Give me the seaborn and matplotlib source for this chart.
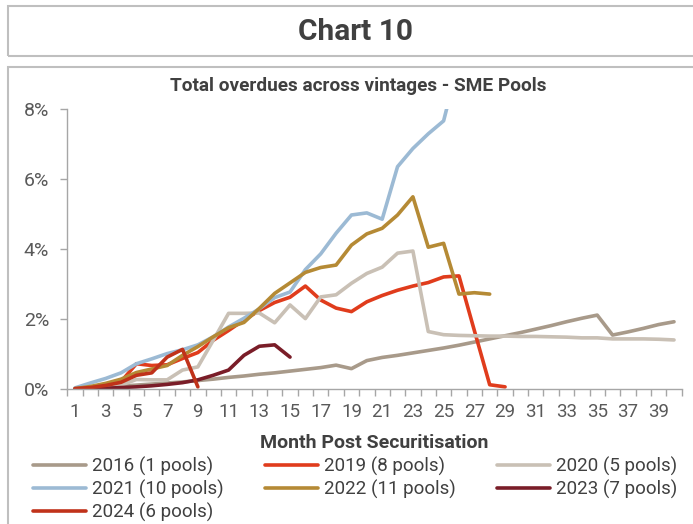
import numpy as np
import pandas as pd
import matplotlib
matplotlib.use('Agg')
import matplotlib.pyplot as plt
from matplotlib.patches import Rectangle
import seaborn as sns

# overdues (% of pool) by month post securitisation
ovd_2016 = [0.00, 0.03, 0.06, 0.09, 0.12, 0.15, 0.18, 0.21, 0.25, 0.29,
            0.34, 0.38, 0.43, 0.47, 0.52, 0.57, 0.62, 0.69, 0.59, 0.82,
            0.91, 0.97, 1.04, 1.11, 1.18, 1.26, 1.35, 1.44, 1.53, 1.62,
            1.72, 1.82, 1.93, 2.03, 2.12, 1.55, 1.64, 1.74, 1.85, 1.93]
ovd_2019 = [0.02, 0.05, 0.10, 0.22, 0.73, 0.68, 0.70, 0.88, 1.05, 1.40,
            1.68, 1.98, 2.25, 2.48, 2.63, 2.95, 2.55, 2.32, 2.22, 2.50,
            2.68, 2.83, 2.95, 3.05, 3.21, 3.24, 1.68, 0.13, 0.07]
ovd_2020 = [0.00, 0.02, 0.06, 0.12, 0.28, 0.27, 0.27, 0.55, 0.64, 1.40,
            2.17, 2.17, 2.18, 1.90, 2.41, 2.02, 2.64, 2.70, 3.03, 3.31,
            3.49, 3.89, 3.95, 1.65, 1.56, 1.54, 1.53, 1.52, 1.52, 1.51,
            1.51, 1.50, 1.49, 1.47, 1.47, 1.44, 1.44, 1.44, 1.43, 1.41]
ovd_2021 = [0.04, 0.18, 0.31, 0.47, 0.73, 0.87, 1.02, 1.13, 1.27, 1.50,
            1.78, 2.03, 2.30, 2.62, 2.78, 3.42, 3.87, 4.46, 4.98, 5.04,
            4.86, 6.36, 6.88, 7.30, 7.67, 9.40]
ovd_2022 = [0.02, 0.08, 0.17, 0.29, 0.48, 0.58, 0.68, 0.97, 1.22, 1.50,
            1.76, 1.91, 2.31, 2.74, 3.04, 3.34, 3.48, 3.55, 4.12, 4.44,
            4.60, 4.98, 5.50, 4.06, 4.17, 2.72, 2.76, 2.72]
ovd_2023 = [0.00, 0.01, 0.03, 0.05, 0.07, 0.10, 0.14, 0.19, 0.27, 0.40,
            0.55, 0.97, 1.23, 1.27, 0.92]
ovd_2024 = [0.02, 0.05, 0.11, 0.20, 0.40, 0.47, 0.92, 1.14, 0.07]

labels = ['2016 (1 pools)', '2019 (8 pools)', '2020 (5 pools)', '2021 (10 pools)',
          '2022 (11 pools)', '2023 (7 pools)', '2024 (6 pools)']
colors = ['#A89A8A', '#E03C1C', '#C9C0B5', '#9CBAD4', '#B58A35', '#7A1D28', '#C0321A']
month_ticks = list(range(1, 40, 2))

series = [ovd_2016, ovd_2019, ovd_2020, ovd_2021, ovd_2022, ovd_2023, ovd_2024]
df = pd.concat([pd.DataFrame({'month': np.arange(1, len(s) + 1), 'value': s, 'vintage': lab})
                for s, lab in zip(series, labels)], ignore_index=True)

sns.set_style('white')
plt.rcParams['font.family'] = ['Roboto', 'DejaVu Sans']
txt = '#404040'

fig = plt.figure(figsize=(6.93, 5.24), dpi=100)
ax = fig.add_axes([67.3 / 693, 1 - 389.3 / 524, (681.7 - 67.3) / 693, (389.3 - 109.3) / 524])

sns.lineplot(data=df, x='month', y='value', hue='vintage', hue_order=labels,
             palette=dict(zip(labels, colors)), lw=2.6, ax=ax, legend=False)

ax.set_xlim(0.5, 40.5)
ax.set_ylim(0, 8)
ax.set_xticks(month_ticks)
ax.set_xticklabels([str(m) for m in month_ticks])
ax.set_xticks(np.arange(0.5, 41, 1), minor=True)
ax.set_yticks([0, 2, 4, 6, 8])
ax.set_yticklabels(['0%', '2%', '4%', '6%', '8%'])
ax.tick_params(axis='x', which='major', length=0, pad=10, labelsize=13.5, labelcolor='#595959')
ax.tick_params(axis='x', which='minor', length=5, width=1, color='#A6A6A6', direction='out', bottom=True)
ax.tick_params(axis='y', length=5, width=1, color='#A6A6A6', direction='out', left=True,
               pad=8, labelsize=14, labelcolor='#595959')
for side in ['top', 'right']:
    ax.spines[side].set_visible(False)
for side in ['left', 'bottom']:
    ax.spines[side].set_color('#A6A6A6')
    ax.spines[side].set_linewidth(1)
ax.set_xlabel('Month Post Securitisation', fontsize=14, fontweight='bold', color=txt, labelpad=9)
ax.set_ylabel('')

# legend, row-major order like the original
handles = ax.get_lines()[:7]
order = [0, 3, 6, 1, 4, 2, 5]
fig.legend([handles[i] for i in order], [labels[i] for i in order], ncol=3,
           loc='upper left', bbox_to_anchor=(33 / 693, 1 - 457 / 524), frameon=False,
           fontsize=13.5, labelcolor=txt, handlelength=2.85, handletextpad=0.3,
           columnspacing=2.2, labelspacing=0.2, borderaxespad=0, borderpad=0)

fig.text(358 / 693, 1 - 86 / 524, 'Total overdues across vintages - SME Pools', ha='center',
         va='center', fontsize=13.7, fontweight='bold', color=txt)
fig.text(355 / 693, 1 - 32 / 524, 'Chart 10', ha='center', va='center',
         fontsize=21.5, fontweight='bold', color=txt)

fig.patches.append(Rectangle((8 / 693, 1 - 56 / 524), 1.0, 50 / 524, transform=fig.transFigure,
                             fill=False, edgecolor='#BFBFBF', lw=1.5))
fig.patches.append(Rectangle((8 / 693, -0.1), 1.0, 0.1 + 1 - 67 / 524, transform=fig.transFigure,
                             fill=False, edgecolor='#BFBFBF', lw=1.5))

fig.savefig('out.png', dpi=100)
